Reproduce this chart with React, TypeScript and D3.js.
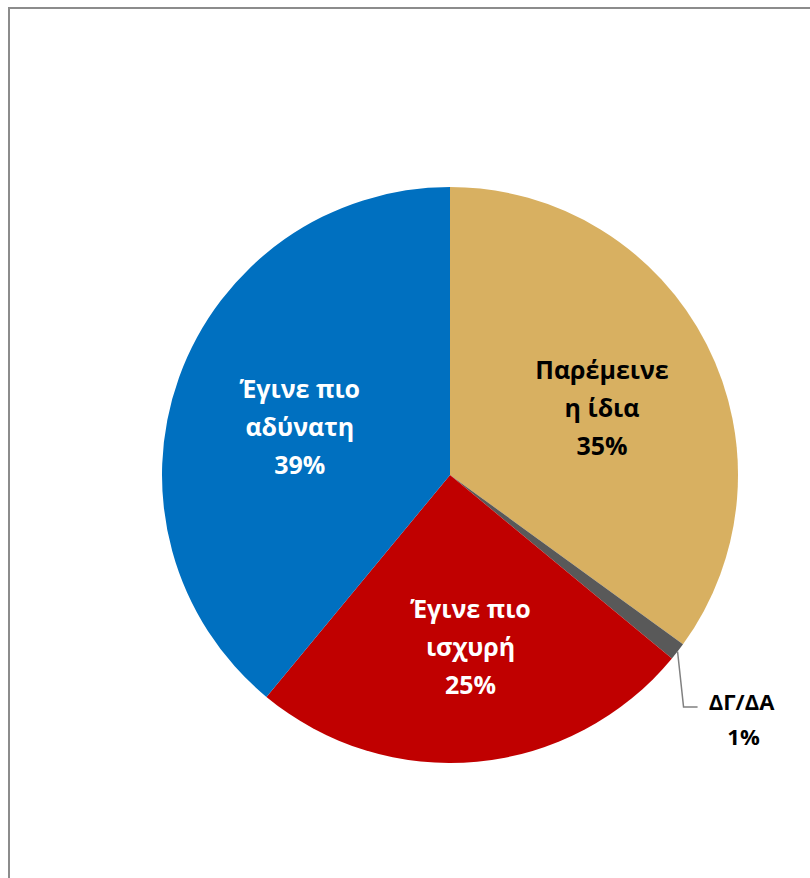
import React from "react";
import * as d3 from "d3";

const categories = ["Παρέμεινε η ίδια", "ΔΓ/ΔΑ", "Έγινε πιο ισχυρή", "Έγινε πιο αδύνατη"];
const labelLines = [["Παρέμεινε", "η ίδια"], ["ΔΓ/ΔΑ"], ["Έγινε πιο", "ισχυρή"], ["Έγινε πιο", "αδύνατη"]];
const values = [35, 1, 25, 39];
const colors = ["#D8B061", "#595959", "#C00000", "#0070C0"];
const labelColors = ["#000000", "#000000", "#ffffff", "#ffffff"];

const W = 810, H = 878;
const cx = 450, cy = 475, R = 288;

export default function App() {
  const pie = d3.pie<number>().sort(null).value((d) => d)(values);
  const arc = d3.arc<d3.PieArcDatum<number>>().innerRadius(0).outerRadius(R);
  const labelArc = d3.arc<d3.PieArcDatum<number>>().innerRadius(165).outerRadius(165);
  const font = "'Open Sans', Lato, sans-serif";
  const lh = 38;
  return (
    <svg width={W} height={H} style={{ position: "absolute", left: 0, top: 0 }}>
      <rect x={0} y={0} width={W} height={H} fill="#fff" />
      <path d={`M9,${H + 5} L9,8 L${W + 5},8`} fill="none" stroke="#8c8c8c" strokeWidth={2} />
      <g transform={`translate(${cx},${cy})`}>
        {pie.map((p, i) => (
          <path key={i} d={arc(p) || ""} fill={colors[i]} stroke="none" />
        ))}
        {pie.map((p, i) => {
          if (i === 1) return null;
          const [x0, y] = labelArc.centroid(p);
          const x = x0 + 5;
          const lines = [...labelLines[i], `${values[i]}%`];
          const y0 = y + 8 - ((lines.length - 1) * lh) / 2;
          return (
            <text key={i} textAnchor="middle" fontFamily={font} fontWeight="bold" fontSize={25} fill={labelColors[i]}>
              {lines.map((l, j) => (
                <tspan key={j} x={x} y={y0 + j * lh} dy="0.35em">{l}</tspan>
              ))}
            </text>
          );
        })}
        {(() => {
          const p = pie[1];
          const a = (p.startAngle + p.endAngle) / 2;
          const ex = R * Math.sin(a), ey = -R * Math.cos(a);
          const lx = ex + 6, ly = 232;
          return (
            <g>
              <path d={`M${ex},${ey} L${lx},${ly} L${lx + 14},${ly}`} fill="none" stroke="#808080" strokeWidth={1.5} />
              <text textAnchor="middle" fontFamily={font} fontWeight="bold" fontSize={22} fill={labelColors[1]}>
                <tspan x={lx + 58} y={ly - 5} dy="0.35em">{labelLines[1][0]}</tspan>
                <tspan x={lx + 60} y={ly + 30} dy="0.35em">{`${values[1]}%`}</tspan>
              </text>
            </g>
          );
        })()}
      </g>
    </svg>
  );
}
